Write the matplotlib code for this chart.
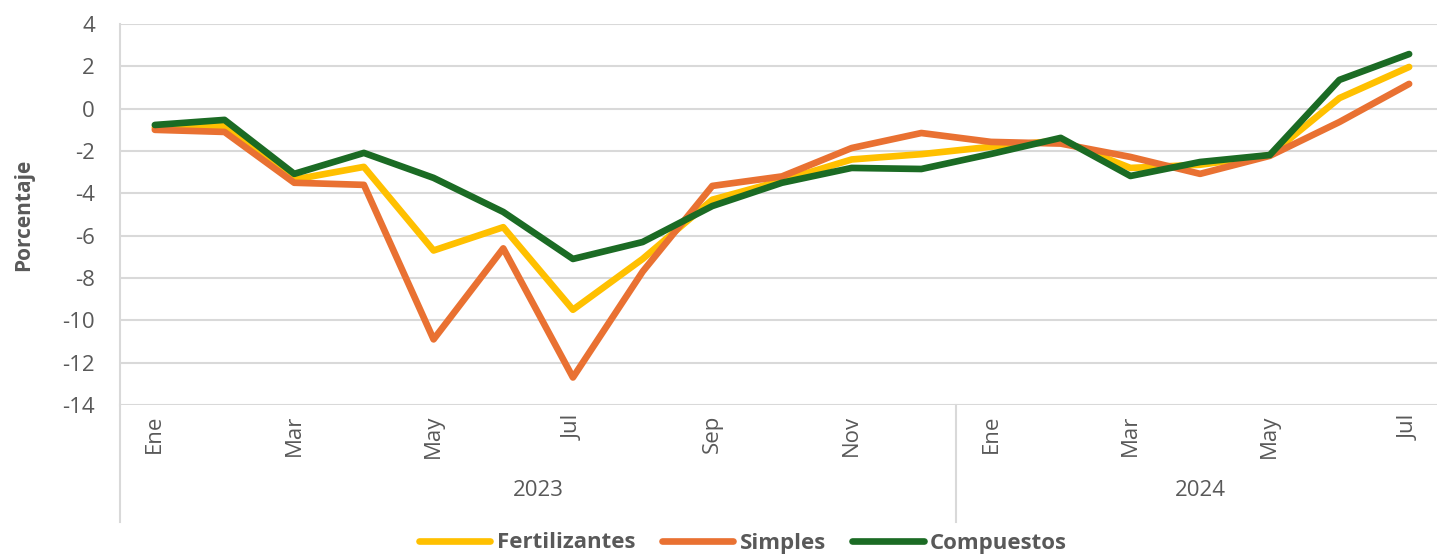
import matplotlib
matplotlib.use("Agg")
import matplotlib.pyplot as plt
import numpy as np

months = ["Ene", "Feb", "Mar", "Abr", "May", "Jun", "Jul", "Ago", "Sep", "Oct", "Nov", "Dic",
          "Ene", "Feb", "Mar", "Abr", "May", "Jun", "Jul"]
years = ["2023", "2024"]
year_counts = [12, 7]

fertilizantes = [-0.9, -0.8, -3.35, -2.75, -6.7, -5.6, -9.5, -7.1, -4.3, -3.4, -2.4, -2.15,
                 -1.8, -1.5, -2.8, -2.65, -2.2, 0.5, 1.97]
simples = [-1.0, -1.1, -3.5, -3.6, -10.9, -6.6, -12.7, -7.7, -3.65, -3.2, -1.86, -1.15,
           -1.57, -1.65, -2.28, -3.08, -2.23, -0.63, 1.17]
compuestos = [-0.77, -0.53, -3.08, -2.09, -3.27, -4.88, -7.1, -6.3, -4.6, -3.5, -2.8, -2.85,
              -2.14, -1.38, -3.18, -2.52, -2.19, 1.36, 2.58]

series = [("Fertilizantes", fertilizantes, "#FFC000"),
          ("Simples", simples, "#E97132"),
          ("Compuestos", compuestos, "#1B6B24")]

plt.rcParams['font.family'] = ['Open Sans', 'DejaVu Sans']
plt.rcParams['axes.unicode_minus'] = False
W, H = 1437, 556
fig = plt.figure(figsize=(W / 100, H / 100), dpi=100)
left, right, top, bottom = 120, 1437, 24, 405
ax = fig.add_axes([left / W, 1 - bottom / H, (right - left) / W, (bottom - top) / H])

x = np.arange(len(months))
for name, vals, col in series:
    ax.plot(x, vals, color=col, lw=4.8, label=name, solid_capstyle='round', solid_joinstyle='round')

ax.set_xlim(-0.5, 18.4)
ax.set_ylim(-14, 4)
ax.set_yticks(np.arange(-14, 5, 2))
ax.grid(axis='y', color='#D9D9D9', lw=1.5)
ax.set_axisbelow(True)
for s in ['top', 'right', 'bottom']:
    ax.spines[s].set_visible(False)
ax.spines['left'].set_color('#D9D9D9')
ax.spines['left'].set_linewidth(1.5)
ax.tick_params(axis='y', length=0, labelsize=16, labelcolor='#595959', pad=18)
ax.set_xticks([])
ax.set_ylabel("Porcentaje", fontsize=15, fontweight='bold', color='#595959', labelpad=20)

trans = ax.get_xaxis_transform()
for i, m in enumerate(months):
    if i % 2 == 0:
        ax.text(i, -0.025, m, rotation=90, ha='center', va='top', fontsize=16,
                color='#595959', transform=trans)
sep_h = -(522 - 405) / (bottom - top)
start = 0
bounds = [-0.5]
for yr, n in zip(years, year_counts):
    end = start + n
    bounds.append(end - 0.5)
    ax.text((start + end - 1) / 2, -(490 - 405) / (bottom - top), yr, ha='center', va='center',
            fontsize=16, color='#595959', transform=trans)
    start = end
for b in bounds[:-1]:
    ax.plot([b, b], [0, sep_h], color='#D9D9D9', lw=1.5, transform=trans, clip_on=False)

leg = fig.legend(loc='center', bbox_to_anchor=(743 / W, 1 - 543 / H), ncol=3, frameon=False,
                 handlelength=3.2, columnspacing=1.2, handletextpad=0.3,
                 prop={'size': 16, 'weight': 'bold'})
for t in leg.get_texts():
    t.set_color('#595959')

fig.savefig("out.png", dpi=100)
